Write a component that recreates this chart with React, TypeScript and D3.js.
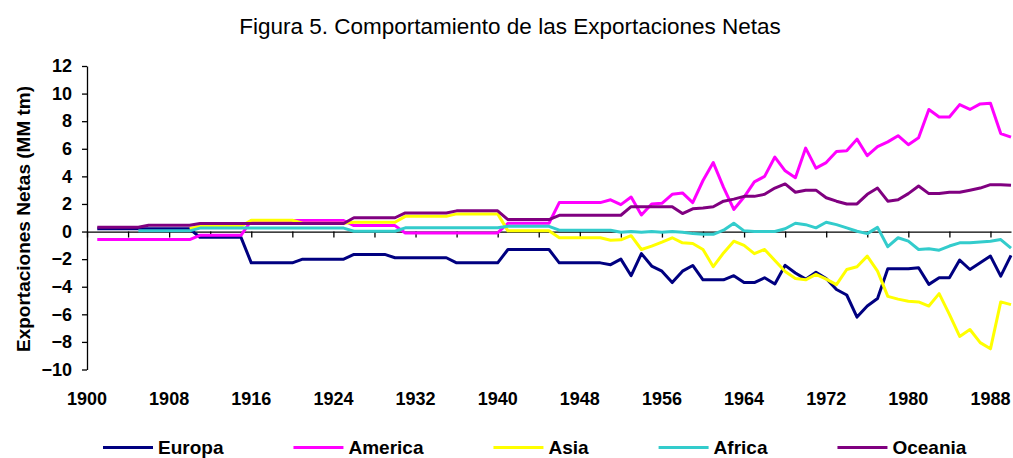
import { useEffect, useRef } from "react";
import * as d3 from "d3";

const years = d3.range(1901, 1991);

const europa = [
  0.2, 0.2, 0.2, 0.2, 0.2, 0.2, 0.2, 0.2, 0.2, 0.2,
  -0.42, -0.42, -0.42, -0.42, -0.42, -2.27, -2.27, -2.27, -2.27, -2.27,
  -2.0, -2.0, -2.0, -2.0, -2.0, -1.66, -1.66, -1.66, -1.66, -1.9,
  -1.9, -1.9, -1.9, -1.9, -1.9, -2.27, -2.27, -2.27, -2.27, -2.27,
  -1.3, -1.3, -1.3, -1.3, -1.3, -2.27, -2.27, -2.27, -2.27, -2.27,
  -2.4, -2.0, -3.2, -1.6, -2.5, -2.87, -3.7, -2.87, -2.46, -3.5,
  -3.5, -3.5, -3.2, -3.7, -3.7, -3.35, -3.8, -2.45, -3.0, -3.45,
  -2.95, -3.4, -4.2, -4.6, -6.2, -5.4, -4.85, -2.7, -2.7, -2.7,
  -2.63, -3.83, -3.35, -3.35, -2.07, -2.75, -2.27, -1.78, -3.23, -1.73,
];

const america = [
  -0.58, -0.58, -0.58, -0.58, -0.58, -0.58, -0.58, -0.58, -0.58, -0.58,
  -0.27, -0.27, -0.27, -0.27, -0.27, 0.8, 0.8, 0.8, 0.8, 0.8,
  0.8, 0.8, 0.8, 0.8, 0.8, 0.43, 0.43, 0.43, 0.43, 0.43,
  -0.1, -0.1, -0.1, -0.1, -0.1, -0.1, -0.1, -0.1, -0.1, -0.1,
  0.6, 0.6, 0.6, 0.6, 0.6, 2.1, 2.1, 2.1, 2.1, 2.1,
  2.3, 1.95, 2.5, 1.2, 2.0, 2.05, 2.7, 2.8, 2.1, 3.7,
  5.0, 3.2, 1.6, 2.5, 3.6, 4.0, 5.4, 4.4, 3.9, 6.05,
  4.6, 5.0, 5.8, 5.85, 6.7, 5.5, 6.15, 6.5, 6.95, 6.3,
  6.8, 8.85, 8.3, 8.3, 9.2, 8.85, 9.25, 9.3, 7.1, 6.85,
];

const asia = [
  null, null, null, null, null, null, null, null, null, 0.2,
  0.38, 0.38, 0.38, 0.38, 0.38, 0.82, 0.82, 0.82, 0.82, 0.82,
  0.6, 0.6, 0.6, 0.6, 0.6, 0.67, 0.67, 0.67, 0.67, 0.67,
  1.1, 1.1, 1.1, 1.1, 1.1, 1.28, 1.28, 1.28, 1.28, 1.28,
  0.05, 0.05, 0.05, 0.05, 0.05, -0.45, -0.45, -0.45, -0.45, -0.45,
  -0.63, -0.6, -0.3, -1.3, -1.06, -0.77, -0.45, -0.82, -0.87, -1.3,
  -2.55, -1.55, -0.7, -1.0, -1.6, -1.3, -2.1, -2.9, -3.4, -3.5,
  -3.1, -3.45, -3.85, -2.75, -2.55, -1.78, -2.87, -4.7, -4.9, -5.05,
  -5.1, -5.4, -4.5, -6.0, -7.6, -7.1, -8.05, -8.5, -5.1, -5.3,
];

const africa = [
  null, null, null, null, 0.05, 0.05, 0.05, 0.05, 0.05, 0.05,
  0.25, 0.25, 0.25, 0.25, 0.25, 0.25, 0.25, 0.25, 0.25, 0.25,
  0.25, 0.25, 0.25, 0.25, 0.25, 0.02, 0.02, 0.02, 0.02, 0.02,
  0.27, 0.27, 0.27, 0.27, 0.27, 0.27, 0.27, 0.27, 0.27, 0.27,
  0.38, 0.38, 0.38, 0.38, 0.38, 0.1, 0.1, 0.1, 0.1, 0.1,
  0.1, -0.05, 0.0, -0.05, 0.0, -0.05, 0.0, -0.05, -0.15, -0.2,
  -0.2, 0.1, 0.6, 0.05, 0.0, 0.0, 0.0, 0.2, 0.6, 0.5,
  0.27, 0.67, 0.5, 0.27, 0.02, -0.15, 0.3, -1.1, -0.45, -0.7,
  -1.3, -1.25, -1.35, -1.05, -0.82, -0.82, -0.75, -0.7, -0.58, -1.2,
];

const oceania = [
  0.31, 0.31, 0.31, 0.31, 0.31, 0.46, 0.46, 0.46, 0.46, 0.46,
  0.58, 0.58, 0.58, 0.58, 0.58, 0.58, 0.58, 0.58, 0.58, 0.58,
  0.58, 0.58, 0.58, 0.58, 0.58, 1.0, 1.0, 1.0, 1.0, 1.0,
  1.35, 1.35, 1.35, 1.35, 1.35, 1.5, 1.5, 1.5, 1.5, 1.5,
  0.87, 0.87, 0.87, 0.87, 0.87, 1.18, 1.18, 1.18, 1.18, 1.18,
  1.18, 1.18, 1.8, 1.8, 1.8, 1.8, 1.8, 1.3, 1.65, 1.7,
  1.8, 2.2, 2.35, 2.55, 2.55, 2.7, 3.15, 3.45, 2.85, 3.0,
  3.0, 2.45, 2.2, 2.0, 2.0, 2.7, 3.15, 2.2, 2.3, 2.75,
  3.3, 2.75, 2.75, 2.85, 2.85, 3.0, 3.15, 3.4, 3.4, 3.35,
];

const seriesNames = ["Europa", "America", "Asia", "Africa", "Oceania"];
const seriesColors = ["#000080", "#ff00ff", "#ffff00", "#33cccc", "#800080"];
const yTicks = [12, 10, 8, 6, 4, 2, 0, -2, -4, -6, -8, -10];
const xTickYears = d3.range(1900, 1992, 4);
const xLabelYears = d3.range(1900, 1990, 8);

export default function App() {
  const ref = useRef(null);

  useEffect(() => {
    const svg = d3.select(ref.current);
    svg.selectAll("*").remove();

    const font = "'Liberation Sans', Arial, sans-serif";
    const x = d3.scaleLinear().domain([1900, 1990]).range([87, 1011]);
    const y = d3.scaleLinear().domain([-10, 12]).range([369.5, 66]);

    svg.append("text")
      .attr("x", 510).attr("y", 34)
      .attr("text-anchor", "middle")
      .attr("font-family", font).attr("font-size", 22.5)
      .text("Figura 5. Comportamiento de las Exportaciones Netas");

    svg.append("text")
      .attr("transform", `translate(30,219) rotate(-90)`)
      .attr("text-anchor", "middle")
      .attr("font-family", font).attr("font-size", 19).attr("font-weight", "bold")
      .text("Exportaciones Netas (MM tm)");

    // y axis
    const yAxis = svg.append("g").attr("transform", "translate(87,0)")
      .call(d3.axisLeft(y).tickValues(yTicks).tickSize(5).tickSizeOuter(0).tickPadding(10));
    yAxis.select(".domain").attr("stroke", "#000").attr("stroke-width", 1.3);
    yAxis.selectAll("line").attr("stroke", "#000").attr("stroke-width", 1.3);
    yAxis.selectAll("text")
      .attr("font-family", font).attr("font-size", 18).attr("font-weight", "bold").attr("fill", "#000");

    // x axis crosses at zero, labels sit below the plot
    const xAxis = svg.append("g").attr("transform", `translate(0,${y(0)})`)
      .call(d3.axisBottom(x).tickValues(xTickYears.filter(d => d <= 1990)).tickSize(6).tickSizeOuter(0).tickFormat(() => ""));
    xAxis.select(".domain").attr("stroke", "#000").attr("stroke-width", 1.3);
    xAxis.selectAll("line").attr("stroke", "#000").attr("stroke-width", 1.3);

    svg.append("g").selectAll("text")
      .data(xLabelYears)
      .join("text")
        .attr("x", d => x(d))
        .attr("y", 405)
        .attr("text-anchor", "middle")
        .attr("font-family", font).attr("font-size", 18).attr("font-weight", "bold")
        .text(d => d);

    const allSeries = [europa, america, asia, africa, oceania];
    const line = d3.line<number | null>()
      .defined(d => d != null)
      .x((_, i) => x(years[i]))
      .y(d => y(d as number));

    svg.append("g").selectAll("path")
      .data(allSeries)
      .join("path")
        .attr("d", d => line(d))
        .attr("fill", "none")
        .attr("stroke", (_, i) => seriesColors[i])
        .attr("stroke-width", 3)
        .attr("stroke-linejoin", "round");

    // legend
    const legend = svg.append("g");
    let lx = 103;
    seriesNames.forEach((name, i) => {
      legend.append("line")
        .attr("x1", lx).attr("x2", lx + 50)
        .attr("y1", 447.5).attr("y2", 447.5)
        .attr("stroke", seriesColors[i]).attr("stroke-width", 3);
      const t = legend.append("text")
        .attr("x", lx + 55).attr("y", 454)
        .attr("font-family", font).attr("font-size", 19).attr("font-weight", "bold")
        .text(name);
      const w = (t.node() as SVGTextElement).getComputedTextLength();
      lx += 55 + w + 70;
    });
  }, []);

  return (
    <svg ref={ref} width={1013} height={458}
      style={{ position: "absolute", left: 0, top: 0, background: "#fff" }} />
  );
}
